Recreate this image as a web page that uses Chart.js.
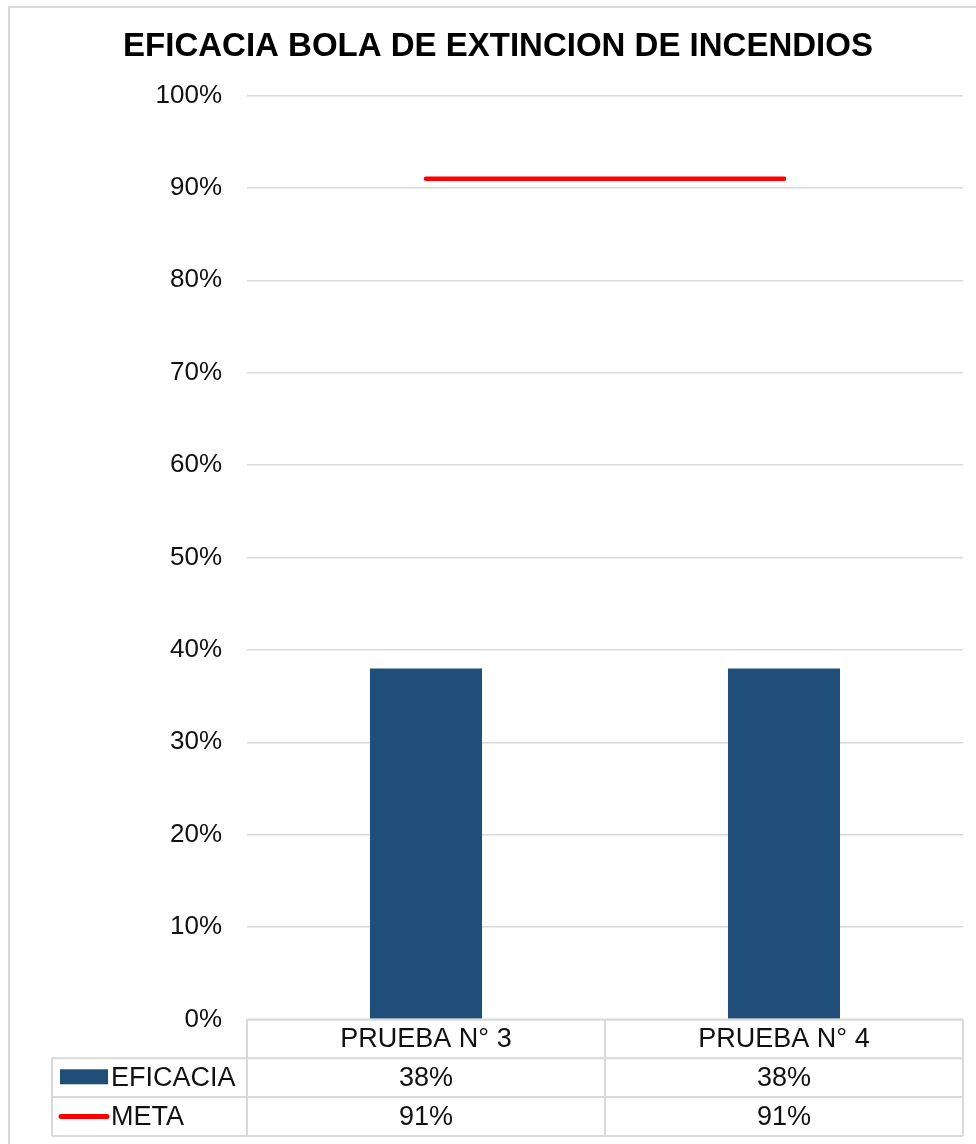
<!DOCTYPE html>
<html lang="es">
<head>
<meta charset="UTF-8">
<title>Eficacia bola de extincion de incendios</title>
<script src="https://cdn.jsdelivr.net/npm/chart.js"></script>
<style>
  body { margin: 0; padding: 0; background: #fff; }
  canvas { display: block; }
</style>
</head>
<body>
<canvas id="chart" width="976" height="1144"></canvas>
<script>
const categories = ['PRUEBA N° 3', 'PRUEBA N° 4'];
const eficacia = [0.38, 0.38];
const meta = [0.91, 0.91];
const yTicks = [0, 0.1, 0.2, 0.3, 0.4, 0.5, 0.6, 0.7, 0.8, 0.9, 1];

const FONT = '"Liberation Sans", Arial, sans-serif';
const BLUE = '#1f4e79';
const RED = '#ff0000';
const GRID = '#d9d9d9';

const pct = v => Math.round(v * 100) + '%';

// light frame around the whole chart
const frame = {
  id: 'frame',
  beforeDraw(chart) {
    const ctx = chart.ctx;
    ctx.save();
    ctx.strokeStyle = GRID;
    ctx.lineWidth = 2;
    ctx.strokeRect(9, 7, 1000, 1200);
    ctx.restore();
  }
};

// data table under the plot, columns follow the x scale
const dataTable = {
  id: 'dataTable',
  afterDraw(chart) {
    const ctx = chart.ctx;
    const area = chart.chartArea;
    const x = chart.scales.x;
    const half = (area.right - area.left) / categories.length / 2;
    const rowH = 38.8;
    const top = area.bottom;
    const r1 = top + rowH, r2 = top + rowH * 2, r3 = top + rowH * 3;
    const tableLeft = 52;

    ctx.save();
    ctx.strokeStyle = GRID;
    ctx.lineWidth = 2;
    ctx.beginPath();
    ctx.moveTo(area.left, top); ctx.lineTo(area.right, top);
    [r1, r2, r3].forEach(y => { ctx.moveTo(tableLeft, y); ctx.lineTo(area.right, y); });
    ctx.moveTo(tableLeft, r1); ctx.lineTo(tableLeft, r3);
    ctx.moveTo(area.left, top); ctx.lineTo(area.left, r3);
    categories.forEach((c, i) => {
      const right = x.getPixelForValue(i) + half;
      ctx.moveTo(right, top); ctx.lineTo(right, r3);
    });
    ctx.stroke();

    ctx.fillStyle = '#111';
    ctx.font = '27px ' + FONT;
    ctx.textAlign = 'center';
    ctx.textBaseline = 'middle';
    categories.forEach((c, i) => {
      const cx = x.getPixelForValue(i);
      ctx.fillText(c, cx, top + rowH / 2 + 1);
      ctx.fillText(pct(eficacia[i]), cx, r1 + rowH / 2 + 1);
      ctx.fillText(pct(meta[i]), cx, r2 + rowH / 2 + 1);
    });

    // legend keys in the first column
    ctx.fillStyle = BLUE;
    ctx.fillRect(60, r1 + 11, 48, 15);
    ctx.strokeStyle = RED;
    ctx.lineWidth = 5;
    ctx.lineCap = 'round';
    ctx.beginPath();
    ctx.moveTo(61, r2 + rowH / 2);
    ctx.lineTo(107, r2 + rowH / 2);
    ctx.stroke();

    ctx.fillStyle = '#111';
    ctx.textAlign = 'left';
    ctx.fillText('EFICACIA', 111, r1 + rowH / 2 + 1);
    ctx.fillText('META', 111, r2 + rowH / 2 + 1);
    ctx.restore();
  }
};

new Chart(document.getElementById('chart'), {
  data: {
    labels: categories,
    datasets: [
      {
        type: 'line',
        label: 'META',
        data: meta,
        borderColor: RED,
        borderWidth: 4.5,
        borderCapStyle: 'round',
        pointRadius: 0,
        order: 0
      },
      {
        type: 'bar',
        label: 'EFICACIA',
        data: eficacia,
        backgroundColor: BLUE,
        barPercentage: 0.313,
        categoryPercentage: 1,
        order: 1
      }
    ]
  },
  options: {
    responsive: false,
    devicePixelRatio: 1,
    animation: false,
    layout: { padding: { left: 33, right: 13, top: 0, bottom: 124.5 } },
    plugins: {
      legend: { display: false },
      tooltip: { enabled: false },
      title: {
        display: true,
        text: 'EFICACIA BOLA DE EXTINCION DE INCENDIOS',
        color: '#000',
        font: { family: FONT, size: 33, weight: 'bold', lineHeight: 1.2 },
        padding: { top: 27, bottom: 28.9 }
      }
    },
    scales: {
      x: {
        display: false
      },
      y: {
        min: 0,
        max: 1,
        afterFit(scale) { scale.width = 214; },
        afterBuildTicks(scale) { scale.ticks = yTicks.map(v => ({ value: v })); },
        border: { display: false },
        grid: { color: GRID, lineWidth: 1.5, drawTicks: false },
        ticks: {
          padding: 25,
          color: '#111',
          font: { family: FONT, size: 26 },
          callback: v => pct(v)
        }
      }
    }
  },
  plugins: [frame, dataTable]
});
</script>
</body>
</html>
